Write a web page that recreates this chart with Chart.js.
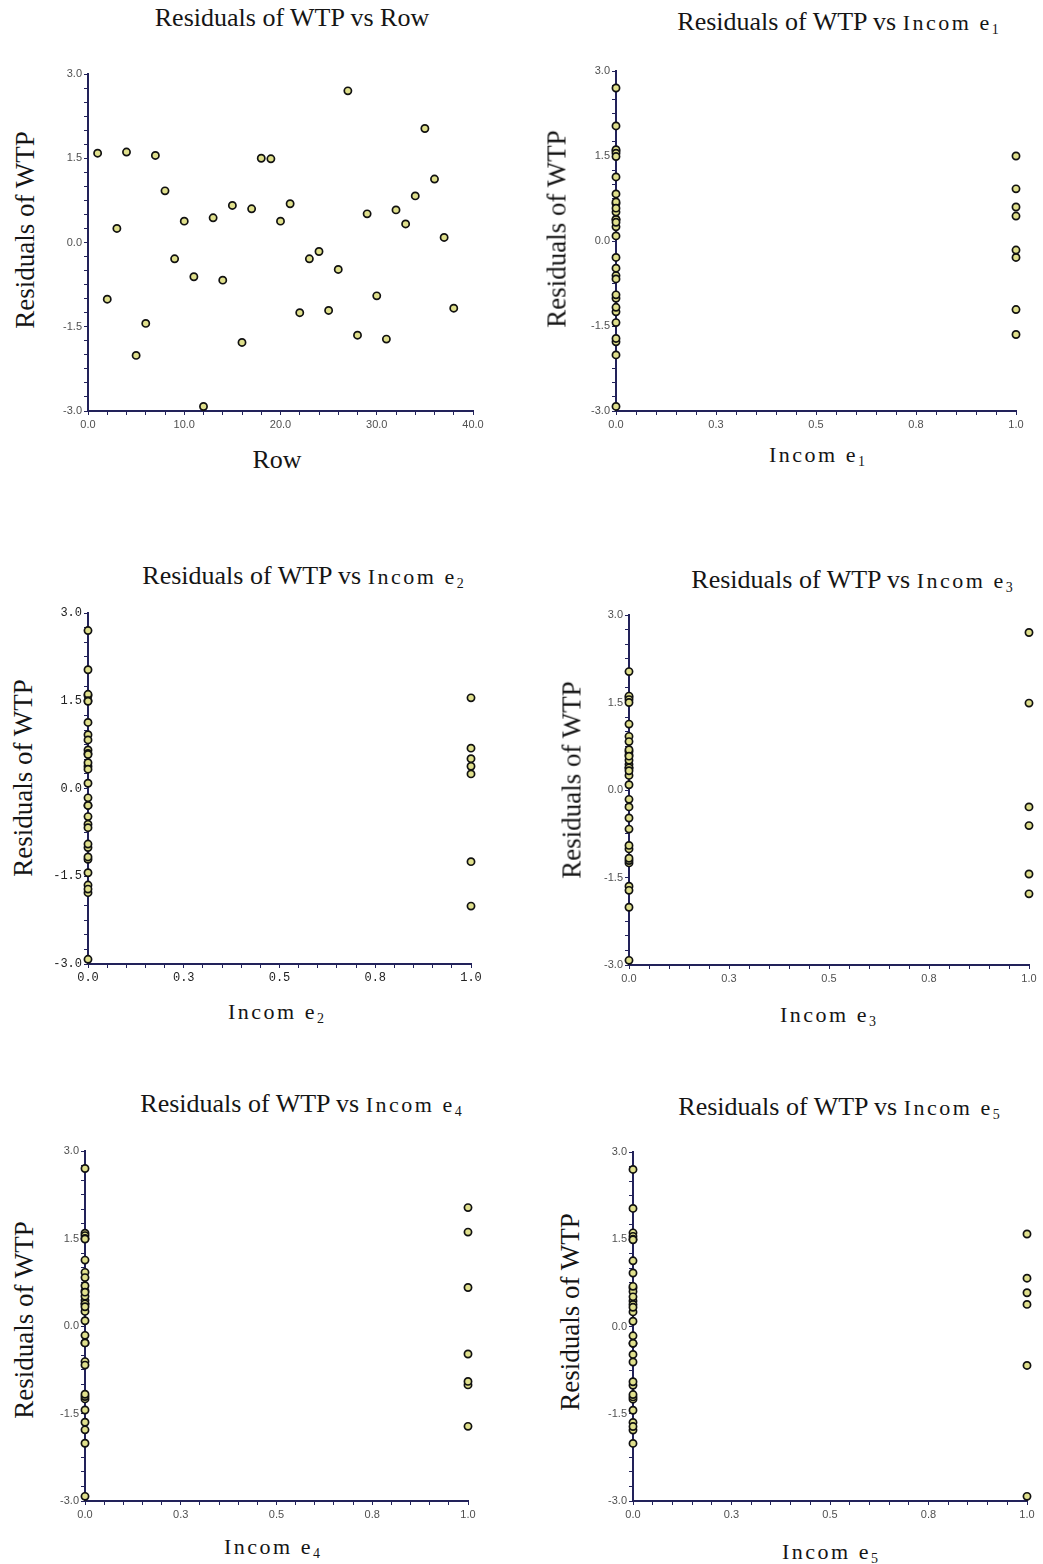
<!DOCTYPE html>
<html>
<head>
<meta charset="utf-8">
<script src="https://cdn.jsdelivr.net/npm/chart.js@4.4.1/dist/chart.umd.min.js"></script>
<style>
html,body{margin:0;padding:0;background:#fff;}
body{width:1043px;height:1564px;position:relative;overflow:hidden;}
canvas{position:absolute;}
.t{position:absolute;transform:translate(-50%,-50%);white-space:nowrap;font-family:'Liberation Serif','Times New Roman',serif;color:#151515;line-height:1;}
.title{font-size:26px;}
.yt{font-size:27px;transform:translate(-50%,-50%) rotate(-90deg);}
.xt{font-size:26px;}
.inc{letter-spacing:2.5px;font-size:22px;}
sub{font-size:14px;vertical-align:-4px;letter-spacing:0;}
</style>
</head>
<body>
<script>
// ---------- data ----------
const rowNumbers = [1,2,3,4,5,6,7,8,9,10,11,12,13,14,15,16,17,18,19,20,
                    21,22,23,24,25,26,27,28,29,30,31,32,33,34,35,36,37,38];
const residuals = [1.59,-1.01,0.25,1.61,-2.01,-1.44,1.55,0.92,-0.29,0.38,
                   -0.61,-2.92,0.44,-0.67,0.66,-1.78,0.60,1.50,1.49,0.38,
                   0.69,-1.25,-0.29,-0.16,-1.21,-0.48,2.70,-1.65,0.51,-0.95,
                   -1.72,0.58,0.33,0.83,2.03,1.13,0.09,-1.17];
const income1 = [0,0,0,0,0,0,0,1,0,0, 0,0,1,0,0,0,1,1,0,0, 0,0,1,1,1,0,0,1,0,0, 0,0,0,0,0,0,0,0];
const income2 = [0,0,1,0,1,0,1,0,0,0, 0,0,0,0,0,0,0,0,0,1, 1,1,0,0,0,0,0,0,1,0, 0,0,0,0,0,0,0,0];
const income3 = [0,0,0,0,0,1,0,0,1,0, 1,0,0,0,0,1,0,0,1,0, 0,0,0,0,0,0,1,0,0,0, 0,0,0,0,0,0,0,0];
const income4 = [0,1,0,1,0,0,0,0,0,0, 0,0,0,0,1,0,0,0,0,0, 0,0,0,0,0,1,0,0,0,1, 1,0,0,0,1,0,0,0];
const income5 = [1,0,0,0,0,0,0,0,0,1, 0,1,0,1,0,0,0,0,0,0, 0,0,0,0,0,0,0,0,0,0, 0,1,0,1,0,0,0,0];

const yTickLabels = ['-3.0','-1.5','0.0','1.5','3.0'];
const rowTickLabels = ['0.0','10.0','20.0','30.0','40.0'];
const incomeTickLabels = ['0.0','0.3','0.5','0.8','1.0'];

// ---------- panels (layout) ----------
const panels = [
  {label:'Row', sub:'', xs:rowNumbers, xMax:40, xStep:2, xTicks:rowTickLabels,
   box:[88,473,74,411], title:[292,18], yTitle:[25,230], xTitle:[277,460]},
  {label:'Incom e', sub:'1', xs:income1, xMax:1, xStep:0.05, xTicks:incomeTickLabels,
   box:[616,1016,71,411], title:[838,23], yTitle:[557,229], xTitle:[817,455]},
  {label:'Incom e', sub:'2', xs:income2, xMax:1, xStep:0.05, xTicks:incomeTickLabels,
   box:[88,471,613,964], title:[303,577], yTitle:[23,778], xTitle:[276,1012], mono:true},
  {label:'Incom e', sub:'3', xs:income3, xMax:1, xStep:0.05, xTicks:incomeTickLabels,
   box:[629,1029,615,965], title:[852,581], yTitle:[572,780], xTitle:[828,1015]},
  {label:'Incom e', sub:'4', xs:income4, xMax:1, xStep:0.05, xTicks:incomeTickLabels,
   box:[85,468,1151,1501], title:[301,1105], yTitle:[24,1320], xTitle:[272,1547]},
  {label:'Incom e', sub:'5', xs:income5, xMax:1, xStep:0.05, xTicks:incomeTickLabels,
   box:[633,1027,1152,1501], title:[839,1108], yTitle:[570,1312], xTitle:[830,1552]}
];

const AXIS = '#22225a';
const PADL = 45, PADR = 18, PADT = 12, PADB = 28;

function majorLabel(labels, min, step, every){
  return function(value){
    const i = Math.round((value - min) / step);
    return (i % every === 0) ? (labels[i / every] ?? '') : '';
  };
}

function addText(cls, html, pos){
  const d = document.createElement('div');
  d.className = 't ' + cls;
  d.innerHTML = html;
  d.style.left = pos[0] + 'px';
  d.style.top = pos[1] + 'px';
  document.body.appendChild(d);
}

panels.forEach(p => {
  const [L, R, T, B] = p.box;
  const w = (R - L) + PADL + PADR;
  const h = (B - T) + PADT + PADB;
  const cv = document.createElement('canvas');
  cv.width = w; cv.height = h;
  cv.style.left = (L - PADL) + 'px';
  cv.style.top = (T - PADT) + 'px';
  cv.style.width = w + 'px'; cv.style.height = h + 'px';
  document.body.appendChild(cv);

  const tickFont = p.mono ? {family:"'Liberation Mono', monospace", size:12}
                          : {family:"'Liberation Sans', Arial, sans-serif", size:11};
  const tickColor = p.mono ? '#222' : '#505050';

  const pts = residuals.map((r, i) => ({x: p.xs[i], y: r}));

  new Chart(cv.getContext('2d'), {
    type: 'scatter',
    data: {datasets: [{
      data: pts,
      pointRadius: 3.6, pointHoverRadius: 3.6,
      pointBackgroundColor: '#e0e08c',
      pointBorderColor: '#111111',
      pointBorderWidth: 1.7,
      clip: false
    }]},
    options: {
      responsive: false, animation: false, events: [],
      layout: {padding: {left: 0, right: PADR, top: PADT, bottom: 0}},
      plugins: {legend: {display: false}, tooltip: {enabled: false}, title: {display: false}},
      scales: {
        x: {
          type: 'linear', position: 'bottom', min: 0, max: p.xMax,
          ticks: {stepSize: p.xStep, autoSkip: false, maxRotation: 0, minRotation: 0,
                  padding: 3, color: tickColor, font: tickFont,
                  callback: majorLabel(p.xTicks, 0, p.xStep, 5)},
          grid: {drawOnChartArea: false, drawTicks: true, tickLength: 4, color: AXIS, lineWidth: 1},
          border: {display: true, color: AXIS, width: 2},
          afterFit(s){ s.height = PADB; }
        },
        y: {
          type: 'linear', position: 'left', min: -3, max: 3,
          ticks: {stepSize: 0.25, autoSkip: false, padding: 2, color: tickColor, font: tickFont,
                  callback: majorLabel(yTickLabels, -3, 0.25, 6)},
          grid: {drawOnChartArea: false, drawTicks: true, tickLength: 4, color: AXIS, lineWidth: 1},
          border: {display: true, color: AXIS, width: 2},
          afterFit(s){ s.width = PADL; }
        }
      }
    }
  });

  const xName = p.sub ? `<span class="inc">${p.label}<sub>${p.sub}</sub></span>` : p.label;
  addText('title', 'Residuals of WTP vs ' + xName, p.title);
  addText('yt', 'Residuals of WTP', p.yTitle);
  addText('xt', xName, p.xTitle);
});
</script>
</body>
</html>
